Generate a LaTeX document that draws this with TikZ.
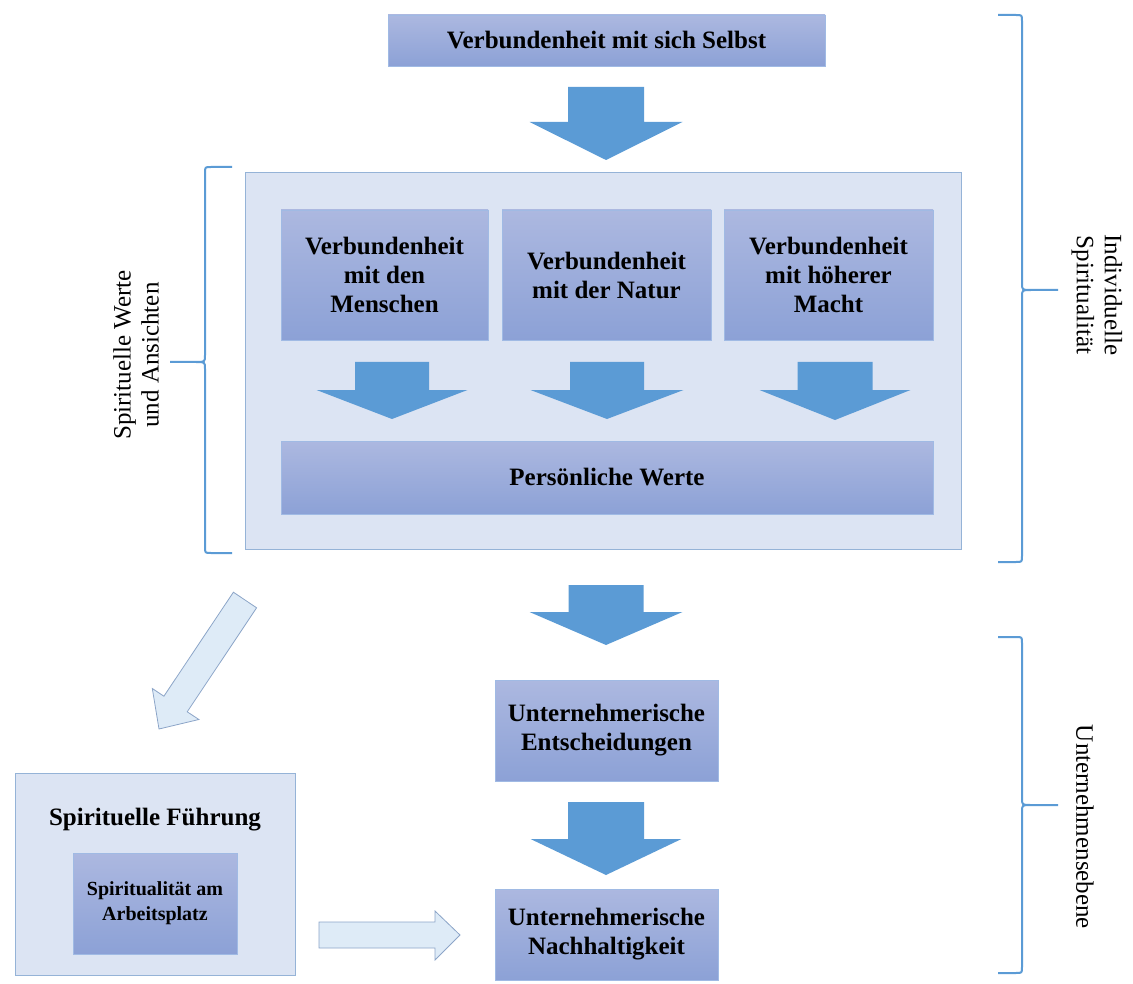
\documentclass[tikz,border=0pt]{standalone}
\usepackage{fontspec}
\setmainfont{Liberation Serif}

\definecolor{boxtop}{RGB}{172,184,224}
\definecolor{boxbot}{RGB}{140,161,214}
\definecolor{boxline}{RGB}{160,186,228}
\definecolor{panelfill}{RGB}{220,228,243}
\definecolor{panelline}{RGB}{149,179,215}
\definecolor{arrowblue}{RGB}{91,155,213}
\definecolor{lightarrow}{RGB}{222,235,247}
\definecolor{lightarrowline}{RGB}{140,165,200}
\definecolor{bracecol}{RGB}{91,155,213}

\tikzset{
  box/.style={draw=boxline, line width=0.8pt, top color=boxtop, bottom color=boxbot,
    align=center, font=\fontsize{25}{29}\selectfont\bfseries, inner sep=0pt},
  smallbox/.style={box, font=\fontsize{20}{25}\selectfont\bfseries},
  panel/.style={draw=panelline, line width=1pt, fill=panelfill, inner sep=0pt},
  blockarrow/.style={fill=arrowblue, draw=none},
  hollowarrow/.style={fill=lightarrow, draw=lightarrowline, line width=0.8pt, line join=miter},
  bracket/.style={draw=bracecol, line width=2pt},
  sidelabel/.style={font=\fontsize{25}{28}\selectfont, align=center, inner sep=0pt},
  titlelabel/.style={font=\fontsize{25}{29}\selectfont\bfseries, inner sep=0pt}
}

% downward block arrow: centre x, top, head base, tip, half shaft width, half head width
\newcommand{\downblock}[6]{%
  \fill[blockarrow] (#1-#5,#2) -- (#1+#5,#2) -- (#1+#5,#3) -- (#1+#6,#3)
    -- (#1,#4) -- (#1-#6,#3) -- (#1-#5,#3) -- cycle;}

\begin{document}
\begin{tikzpicture}[x=1pt, y=-1pt]
\useasboundingbox (0,0) rectangle (1133,984);

% individual level
\node[box, minimum width=437, minimum height=51] (self) at (606.5,40.5)
  {Verbundenheit mit sich Selbst};
\downblock{606}{87}{122}{160}{38}{76.5}

\node[panel, minimum width=716, minimum height=376] (values) at (603,361) {};
\node[box, minimum width=207, minimum height=130] (people) at (384.5,275)
  {Verbundenheit\\mit den\\Menschen};
\node[box, minimum width=209, minimum height=130] (nature) at (606.5,275)
  {Verbundenheit\\mit der Natur};
\node[box, minimum width=209, minimum height=130] (power) at (828.5,275)
  {Verbundenheit\\mit höherer\\Macht};
\downblock{392}{362}{390}{419}{37}{75.5}
\downblock{607}{362}{390}{419}{37}{76.5}
\downblock{835}{362}{390}{420}{37.5}{75.5}
\node[box, minimum width=652, minimum height=73] (personal) at (607,477.5)
  {Persönliche Werte};

% company level
\downblock{606}{585}{612}{645}{37.5}{76.5}
\node[box, minimum width=223, minimum height=101] (decisions) at (606.5,730.5)
  {Unternehmerische\\Entscheidungen};
\downblock{606}{802}{839}{875}{38}{75.5}
\node[box, minimum width=223, minimum height=91] (sustain) at (606.5,934.5)
  {Unternehmerische\\Nachhaltigkeit};

% spiritual leadership
\node[panel, minimum width=280, minimum height=202] (leader) at (155,874) {};
\node[titlelabel] (leadertitle) at (155,820) {Spirituelle Führung};
\node[smallbox, minimum width=164, minimum height=101] (workplace) at (155,903.5)
  {Spiritualität am\\Arbeitsplatz};

% hollow arrows
\draw[hollowarrow] (256.6,607.8) -- (187.2,711.8) -- (198.9,719.5) -- (159,729)
  -- (152.3,688.5) -- (163.9,696.2) -- (233.4,592.2) -- cycle;
\draw[hollowarrow] (319,922) -- (435,922) -- (435,911) -- (460,935)
  -- (435,960) -- (435,948) -- (319,948) -- cycle;

% left brace
\draw[bracket] (232,167) -- (211,167) .. controls (205,167) .. (205,173) -- (205,355)
  .. controls (205,362) .. (196,362) -- (170,362)
  (196,362) .. controls (205,362) .. (205,369) -- (205,547)
  .. controls (205,553) .. (211,553) -- (232,553);
\node[sidelabel, rotate=90] (leftlabel) at (136,355) {Spirituelle Werte\\und Ansichten};

% right braces
\draw[bracket] (998,15) -- (1016,15) .. controls (1022,15) .. (1022,21) -- (1022,283)
  .. controls (1022,290) .. (1031,290) -- (1058,290)
  (1031,290) .. controls (1022,290) .. (1022,297) -- (1022,556)
  .. controls (1022,562) .. (1016,562) -- (998,562);
\node[sidelabel, rotate=-90] (indiv) at (1097,295) {Individuelle\\Spiritualität};

\draw[bracket] (998,637) -- (1016,637) .. controls (1022,637) .. (1022,643) -- (1022,798)
  .. controls (1022,805) .. (1031,805) -- (1058,805)
  (1031,805) .. controls (1022,805) .. (1022,812) -- (1022,967)
  .. controls (1022,973) .. (1016,973) -- (998,973);
\node[sidelabel, rotate=-90] (company) at (1085,827) {Unternehmensebene};
\end{tikzpicture}
\end{document}
